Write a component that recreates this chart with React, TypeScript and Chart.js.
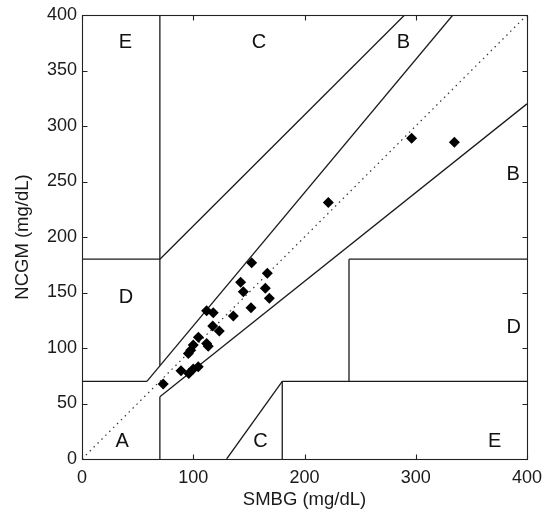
import React, { useEffect, useRef } from "react";
import { Chart, registerables } from "chart.js";

Chart.register(...registerables);

// Measured points (SMBG vs NCGM)
const smbg = [73, 89, 96, 100, 104.5, 95.6, 97.7, 100, 104.6, 112, 113.5, 112, 118, 117.5, 123.4, 136, 142.6, 145, 151.9, 152.5, 164.8, 166.6, 168.4, 221.4, 296.3, 334.7];
const ncgm = [67.6, 79.5, 77, 81, 83, 95, 98, 102.7, 109.6, 104, 101.5, 133.6, 131.8, 119.8, 115.3, 128.8, 159.2, 150.7, 136.3, 176.8, 153.8, 167.3, 144.8, 231, 288.9, 285.3];

// Clarke error grid zone boundaries: [x1, y1, x2, y2]
const zoneSegments: number[][] = [
  [0, 70, 175 / 3, 70],
  [175 / 3, 70, 400 / 1.2, 400],
  [70, 84, 70, 400],
  [0, 180, 70, 180],
  [70, 180, 290, 400],
  [70, 0, 70, 56],
  [70, 56, 400, 320],
  [180, 0, 180, 70],
  [180, 70, 400, 70],
  [240, 70, 240, 180],
  [240, 180, 400, 180],
  [130, 0, 180, 70],
];
const refLine = [0, 0, 400, 400];

const zoneLabels = ["E", "C", "B", "D", "B", "D", "A", "C", "E"];
const zoneLabelX = [33, 152.5, 283, 33, 381.5, 381.5, 30, 154, 365];
const zoneLabelY = [370, 370, 370, 140.5, 251, 113.5, 11, 11, 11];

const xTicks = [0, 100, 200, 300, 400];
const yTicks = [0, 50, 100, 150, 200, 250, 300, 350, 400];

const FONT = "'Liberation Sans', Arial, sans-serif";

const framePlugin = {
  id: "framePlugin",
  afterDatasetsDraw(chart: any) {
    const { ctx, chartArea, scales } = chart;
    const xs = scales.x;
    const ys = scales.y;
    ctx.save();
    ctx.strokeStyle = "#222";
    ctx.lineWidth = 1.1;
    const L = Math.round(chartArea.left) + 0.5;
    const R = Math.round(chartArea.right) + 0.5;
    const T = Math.round(chartArea.top) + 0.5;
    const B = Math.round(chartArea.bottom) + 0.5;
    ctx.strokeRect(L, T, R - L, B - T);
    const tl = 5;
    ctx.beginPath();
    xTicks.forEach((v) => {
      const px = Math.round(xs.getPixelForValue(v)) + 0.5;
      ctx.moveTo(px, B);
      ctx.lineTo(px, B - tl);
      ctx.moveTo(px, T);
      ctx.lineTo(px, T + tl);
    });
    yTicks.forEach((v) => {
      const py = Math.round(ys.getPixelForValue(v)) + 0.5;
      ctx.moveTo(L, py);
      ctx.lineTo(L + tl, py);
      ctx.moveTo(R, py);
      ctx.lineTo(R - tl, py);
    });
    ctx.stroke();

    ctx.fillStyle = "#111";
    ctx.font = `20px ${FONT}`;
    ctx.textAlign = "left";
    ctx.textBaseline = "alphabetic";
    zoneLabels.forEach((t, i) => {
      ctx.fillText(t, xs.getPixelForValue(zoneLabelX[i]), ys.getPixelForValue(zoneLabelY[i]));
    });
    ctx.restore();
  },
};

export default function App() {
  const ref = useRef<HTMLCanvasElement | null>(null);
  useEffect(() => {
    document.body.style.margin = "0";
    if (!ref.current) return;
    const segDatasets: any[] = zoneSegments.map((s) => ({
      type: "line",
      data: [
        { x: s[0], y: s[1] },
        { x: s[2], y: s[3] },
      ],
      borderColor: "#1a1a1a",
      borderWidth: 1.3,
      pointRadius: 0,
      showLine: true,
      fill: false,
      order: 2,
    }));
    const chart = new Chart(ref.current, {
      type: "scatter",
      data: {
        datasets: [
          {
            type: "line",
            data: [
              { x: refLine[0], y: refLine[1] },
              { x: refLine[2], y: refLine[3] },
            ],
            borderColor: "#333",
            borderWidth: 1.2,
            borderDash: [1.5, 4],
            pointRadius: 0,
            showLine: true,
            fill: false,
            order: 3,
          } as any,
          ...segDatasets,
          {
            data: smbg.map((x, i) => ({ x, y: ncgm[i] })),
            backgroundColor: "#000",
            borderColor: "#000",
            pointStyle: "rectRot",
            pointRadius: 5.5,
            borderWidth: 0,
            order: 1,
          },
        ],
      },
      options: {
        animation: false,
        responsive: true,
        maintainAspectRatio: false,
        layout: { padding: { top: 15, right: 16, left: 0, bottom: 0 }, autoPadding: false },
        plugins: { legend: { display: false }, tooltip: { enabled: false } },
        scales: {
          x: {
            type: "linear",
            min: 0,
            max: 400,
            afterFit: (s: any) => {
              s.height = 55;
              s.paddingLeft = 0;
              s.paddingRight = 0;
            },
            afterBuildTicks: (s: any) => {
              s.ticks = xTicks.map((v) => ({ value: v }));
            },
            grid: { display: false, drawTicks: false },
            border: { display: false },
            ticks: { padding: 8, color: "#1a1a1a", font: { family: FONT, size: 18 }, maxRotation: 0 },
            title: {
              display: true,
              text: "SMBG (mg/dL)",
              color: "#1a1a1a",
              font: { family: FONT, size: 18.5 },
              padding: { top: 0, bottom: 3 },
            },
          },
          y: {
            type: "linear",
            min: 0,
            max: 400,
            afterFit: (s: any) => {
              s.width = 82;
              s.paddingTop = 0;
              s.paddingBottom = 0;
            },
            afterBuildTicks: (s: any) => {
              s.ticks = yTicks.map((v) => ({ value: v }));
            },
            grid: { display: false, drawTicks: false },
            border: { display: false },
            ticks: { padding: 5, color: "#1a1a1a", font: { family: FONT, size: 18 } },
            title: {
              display: true,
              text: "NCGM (mg/dL)",
              color: "#1a1a1a",
              font: { family: FONT, size: 18.5 },
              padding: { top: 12, bottom: 0 },
            },
          },
        },
      } as any,
      plugins: [framePlugin],
    });
    return () => chart.destroy();
  }, []);
  return (
    <div style={{ position: "relative", width: 543, height: 514 }}>
      <canvas ref={ref} />
    </div>
  );
}
